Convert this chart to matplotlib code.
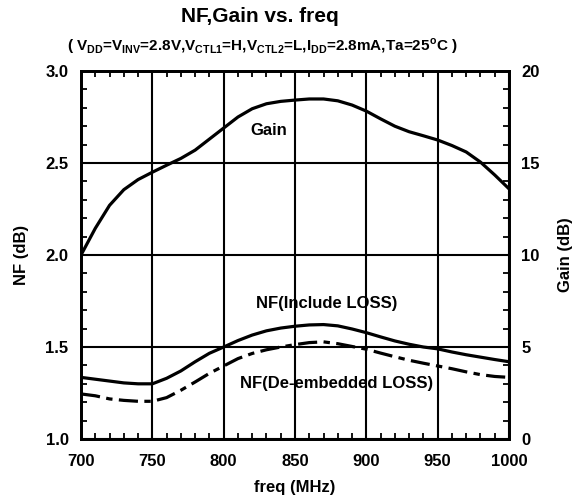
import numpy as np
import matplotlib
matplotlib.use("Agg")
import matplotlib.pyplot as plt
from matplotlib.ticker import MultipleLocator

plt.rcParams['font.family'] = ['Liberation Sans', 'DejaVu Sans']
plt.rcParams['font.weight'] = 'bold'
plt.rcParams['mathtext.fontset'] = 'custom'
plt.rcParams['mathtext.rm'] = 'Liberation Sans:bold'
plt.rcParams['mathtext.bf'] = 'Liberation Sans:bold'

# frequency grid (MHz)
freq = [700, 710, 720, 730, 740, 750, 760, 770, 780, 790, 800, 810, 820, 830, 840, 850,
        860, 870, 880, 890, 900, 910, 920, 930, 940, 950, 960, 970, 980, 990, 1000]

gain = [10.0, 11.45, 12.7, 13.55, 14.1, 14.5, 14.88, 15.25, 15.7, 16.3, 16.9, 17.5, 17.95,
        18.22, 18.35, 18.42, 18.48, 18.48, 18.38, 18.15, 17.82, 17.4, 17.0, 16.7, 16.48,
        16.25, 15.95, 15.6, 15.05, 14.35, 13.6]

nf_incl = [1.335, 1.325, 1.315, 1.305, 1.30, 1.30, 1.33, 1.37, 1.42, 1.466, 1.50, 1.535,
           1.565, 1.588, 1.603, 1.613, 1.62, 1.622, 1.615, 1.598, 1.578, 1.555, 1.533,
           1.515, 1.50, 1.49, 1.473, 1.458, 1.445, 1.432, 1.42]

nf_deemb = [1.245, 1.235, 1.218, 1.21, 1.205, 1.205, 1.225, 1.265, 1.31, 1.357, 1.397,
            1.437, 1.465, 1.485, 1.50, 1.513, 1.524, 1.528, 1.518, 1.503, 1.488, 1.467,
            1.447, 1.428, 1.412, 1.397, 1.382, 1.365, 1.35, 1.34, 1.335]

fig = plt.figure(figsize=(5.75, 4.99), dpi=100)
ax = fig.add_axes([0.1409, 0.1202, 0.7443, 0.7375])
ax2 = ax.twinx()

ax.plot(freq, nf_incl, color="black", lw=2.3, solid_capstyle="butt")
ax.plot(freq, nf_deemb, color="black", lw=2.3, dashes=(6, 2, 2, 2))
ax2.plot(freq, gain, color="black", lw=2.3)

ax.set_xlim(700, 1000)
ax.set_ylim(1.0, 3.0)
ax2.set_ylim(0, 20)

ax.xaxis.set_major_locator(MultipleLocator(50))
ax.xaxis.set_minor_locator(MultipleLocator(10))
ax.yaxis.set_major_locator(MultipleLocator(0.5))
ax.yaxis.set_minor_locator(MultipleLocator(0.1))
ax2.yaxis.set_major_locator(MultipleLocator(5))
ax2.yaxis.set_minor_locator(MultipleLocator(1))
ax.yaxis.set_major_formatter(plt.FormatStrFormatter("%.1f"))

ax.grid(True, which="major", color="black", lw=1.5)
ax.tick_params(axis="y", which="major", length=0, labelsize=12, pad=9)
ax.tick_params(axis="x", which="major", length=0, labelsize=12, pad=11)
ax.tick_params(which="minor", direction="in", length=4, width=1.3, top=True)
ax2.tick_params(which="major", length=0, labelsize=12, pad=9)
ax2.tick_params(which="minor", direction="in", length=4, width=1.3)

for a in (ax, ax2):
    for s in a.spines.values():
        s.set_linewidth(2)

ax.set_xlabel("freq (MHz)", fontsize=12, fontweight="bold", labelpad=8)
ax.set_ylabel("NF (dB)", fontsize=12, fontweight="bold", labelpad=12)
ax2.set_ylabel("Gain (dB)", fontsize=12, fontweight="bold", labelpad=13, rotation=90)

ax.text(831.7, 2.674, "Gain", fontsize=12, fontweight="bold", ha="center", va="center")
ax.text(872, 1.734, "NF(Include LOSS)", fontsize=12, fontweight="bold", ha="center", va="center")
ax.text(879, 1.30, "NF(De-embedded LOSS)", fontsize=12, fontweight="bold", ha="center", va="center")

fig.text(0.452, 0.966, "NF,Gain vs. freq", fontsize=15, fontweight="bold", ha="center", va="center")
fig.text(0.456, 0.907,
         r"( V$_\mathrm{DD}$=V$_\mathrm{INV}$=2.8V,V$_\mathrm{CTL1}$=H,V$_\mathrm{CTL2}$=L,"
         r"I$_\mathrm{DD}$=2.8mA,Ta=25$^\mathrm{o}$C )",
         fontsize=11, fontweight="bold", ha="center", va="center")

fig.savefig("out.png", dpi=100)
